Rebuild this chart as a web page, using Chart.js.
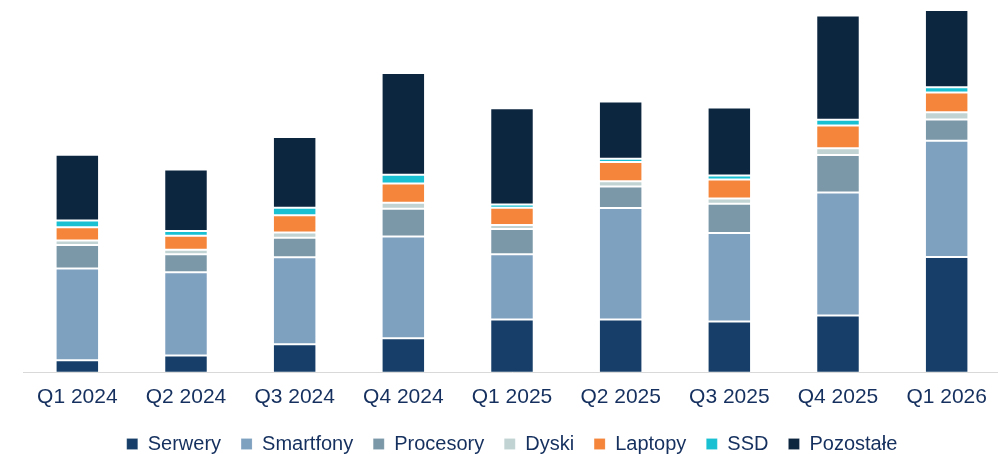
<!DOCTYPE html>
<html>
<head>
<meta charset="utf-8">
<script src="https://cdn.jsdelivr.net/npm/chart.js@4.4.1/dist/chart.umd.min.js"></script>
<style>
html,body{margin:0;padding:0;background:#fff;overflow:hidden;width:998px;height:454px;}
#c{position:absolute;left:0;top:0;}
</style>
</head>
<body>
<canvas id="c" width="1001" height="454"></canvas>
<script>
const categories = ["Q1 2024","Q2 2024","Q3 2024","Q4 2024","Q1 2025","Q2 2025","Q3 2025","Q4 2025","Q1 2026"];
const serwery    = [3.1, 4.3, 7.1, 8.6, 13.3, 13.3, 12.8, 14.3, 28.9];
const smartfony  = [22.9, 20.8, 21.7, 25.4, 16.3, 27.8, 22.1, 30.7, 29.0];
const procesory  = [5.9, 4.5, 4.9, 6.9, 6.3, 5.4, 7.3, 9.3, 5.3];
const dyski      = [1.1, 1.1, 1.3, 1.5, 1.0, 1.3, 1.3, 1.7, 1.8];
const laptopy    = [3.3, 3.5, 4.3, 4.8, 4.3, 4.8, 4.7, 5.7, 4.9];
const ssd        = [1.7, 1.2, 1.9, 2.2, 0.8, 0.8, 1.0, 1.4, 1.3];
const pozostale  = [16.4, 15.3, 17.6, 25.4, 24.0, 14.3, 17.0, 26.0, 19.3];

const seriesNames  = ["Serwery","Smartfony","Procesory","Dyski","Laptopy","SSD","Pozostałe"];
const seriesData   = [serwery, smartfony, procesory, dyski, laptopy, ssd, pozostale];
const seriesColors = ["#163e69","#7fa1c0","#7b98a8","#c1d3d3","#f4853b","#19c0d2","#0d2640"];

const textColor = "#15305e";

new Chart(document.getElementById("c"), {
  type: "bar",
  data: {
    labels: categories,
    datasets: seriesNames.map((n, i) => ({
      label: n,
      data: seriesData[i],
      backgroundColor: seriesColors[i],
      borderColor: "rgba(255,255,255,0.15)",
      borderWidth: 1,
      borderSkipped: false,
      barPercentage: 1,
      categoryPercentage: 0.4
    }))
  },
  options: {
    responsive: false,
    animation: false,
    devicePixelRatio: 1,
    layout: { padding: { left: 23, right: 0, top: 8, bottom: -10 } },
    plugins: {
      tooltip: { enabled: false },
      legend: {
        position: "bottom",
        labels: {
          color: textColor,
          font: { family: "'Liberation Sans', Arial, sans-serif", size: 20 },
          boxWidth: 11,
          boxHeight: 11,
          padding: 20
        }
      }
    },
    scales: {
      x: {
        stacked: true,
        grid: { display: false },
        border: { display: true, color: "#d9d9d9", width: 1 },
        ticks: {
          color: textColor,
          font: { family: "'Liberation Sans', Arial, sans-serif", size: 21 },
          padding: 4,
          maxRotation: 0
        }
      },
      y: {
        stacked: true,
        display: false,
        min: 0,
        max: 91
      }
    }
  }
});
</script>
</body>
</html>
